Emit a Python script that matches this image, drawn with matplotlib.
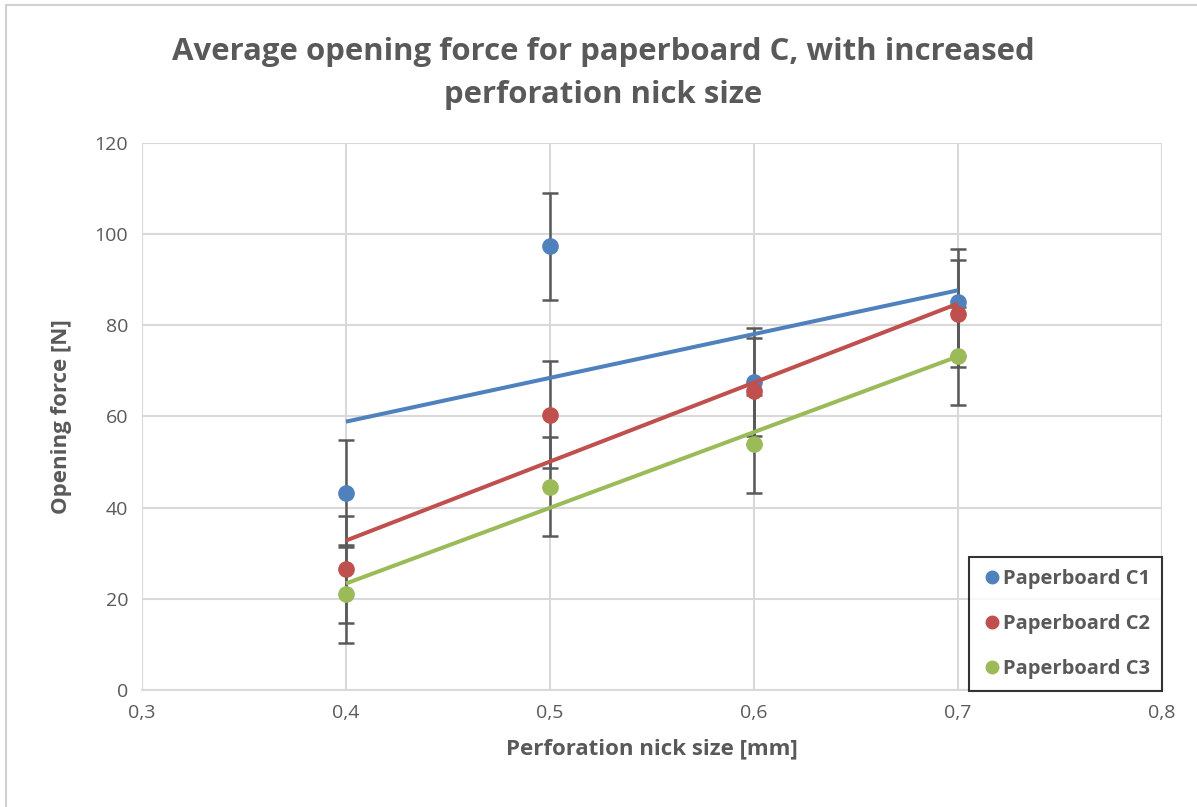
import numpy as np
import matplotlib
matplotlib.use("Agg")
import matplotlib.pyplot as plt
from matplotlib.lines import Line2D
from matplotlib.patches import Rectangle

plt.rcParams['font.family'] = ['Open Sans', 'DejaVu Sans']

nick_size = [0.4, 0.5, 0.6, 0.7]
labels = ["Paperboard C1", "Paperboard C2", "Paperboard C3"]
force_c1 = [43.1, 97.3, 67.6, 85.0]
force_c2 = [26.5, 60.4, 65.6, 82.5]
force_c3 = [21.1, 44.6, 54.0, 73.3]
err_c1 = [11.8, 11.8, 11.8, 11.8]
err_c2 = [11.7, 11.7, 11.7, 11.7]
err_c3 = [10.8, 10.8, 10.8, 10.8]
colors = ["#4F81BD", "#C0504D", "#9BBB59"]
text_col = "#595959"
grid_col = "#D9D9D9"

fig = plt.figure(figsize=(11.97, 8.07), dpi=100)
fig.patches.append(Rectangle((0.005, -0.01), 1.2, 1.004, transform=fig.transFigure,
                             fill=False, edgecolor="#D0D0D0", lw=1.5))
ax = fig.add_axes([0.1186, 0.145, 0.852, 0.678])

x = np.array(nick_size)
for ys, es, c in zip([force_c1, force_c2, force_c3], [err_c1, err_c2, err_c3], colors):
    ax.errorbar(x, ys, yerr=es, fmt="none", ecolor="#595959", elinewidth=1.8,
                capsize=5.8, capthick=1.8, zorder=2)
    ax.plot(x, ys, "o", color=c, markersize=11, zorder=3)
    k, b = np.polyfit(x, ys, 1)
    ax.plot([x[0], x[-1]], [k * x[0] + b, k * x[-1] + b], color=c, lw=2.9,
            solid_capstyle="butt", zorder=4)

ax.set_xlim(0.3, 0.8)
ax.set_ylim(0, 120)
ax.set_xticks(np.arange(0.3, 0.81, 0.1))
ax.set_xticklabels(["0,3", "0,4", "0,5", "0,6", "0,7", "0,8"])
ax.set_yticks(range(0, 121, 20))
ax.grid(True, color=grid_col, lw=1.5, zorder=0)
ax.set_axisbelow(True)
for s in ax.spines.values():
    s.set_visible(False)
ax.spines["bottom"].set_visible(True)
ax.spines["bottom"].set_color(grid_col)
ax.spines["bottom"].set_linewidth(1.5)
ax.tick_params(length=0, labelsize=14, labelcolor=text_col, pad=10)

ax.set_xlabel("Perforation nick size [mm]", fontsize=16, fontweight="bold",
              color=text_col, labelpad=12)
ax.set_ylabel("Opening force [N]", fontsize=16, fontweight="bold",
              color=text_col, labelpad=16)
fig.text(0.504, 0.909, "Average opening force for paperboard C, with increased\nperforation nick size",
         ha="center", va="center", fontsize=22.4, fontweight="bold", color=text_col,
         linespacing=1.55)

handles = [Line2D([], [], marker="o", ls="none", color=c, markersize=9) for c in colors]
leg = ax.legend(handles, labels, loc="lower right", bbox_to_anchor=(1.0, -0.002),
                borderaxespad=0, frameon=True, fancybox=False, handletextpad=0.05,
                labelspacing=1.25, borderpad=0.6, handlelength=1.0,
                prop={"weight": "bold", "size": 14.5})
leg.get_frame().set_edgecolor("black")
leg.get_frame().set_linewidth(1.5)
for t in leg.get_texts():
    t.set_color(text_col)

fig.savefig("out.png", dpi=100)
